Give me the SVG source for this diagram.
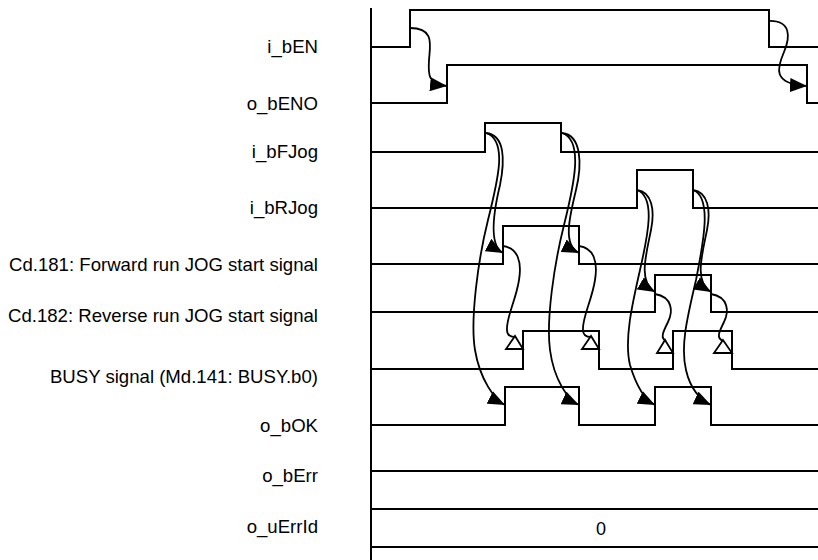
<svg xmlns="http://www.w3.org/2000/svg" width="818" height="560" viewBox="0 0 818 560">
<style>
  .lbl { font-family: "Liberation Sans", Arial, sans-serif; font-size: 18.6px; fill: #000; text-anchor: end; }
  .val { font-family: "Liberation Sans", Arial, sans-serif; font-size: 18px; fill: #000; text-anchor: middle; }
  .wave { fill: none; stroke: #000; stroke-width: 2; }
  .arr { fill: none; stroke: #000; stroke-width: 1.8; marker-end: url(#ah); }
  .arr2 { fill: none; stroke: #000; stroke-width: 1.8; }
  .tri { fill: #fff; stroke: #000; stroke-width: 1.8; }
</style>
<defs>
  <marker id="ah" markerUnits="userSpaceOnUse" markerWidth="18" markerHeight="14" refX="17" refY="7" orient="auto" viewBox="0 0 18 14">
    <path d="M0,0 L17,7 L0,14 z" fill="#000"/>
  </marker>
</defs>
<rect width="818" height="560" fill="#fff"/>

<g id="axis">
  <path class="wave" d="M371,8 V560"/>
</g>

<g id="labels">
  <text class="lbl" x="318" y="53">i_bEN</text>
  <text class="lbl" x="318" y="110">o_bENO</text>
  <text class="lbl" x="318" y="158">i_bFJog</text>
  <text class="lbl" x="318" y="214">i_bRJog</text>
  <text class="lbl" x="318" y="271">Cd.181: Forward run JOG start signal</text>
  <text class="lbl" x="318" y="322">Cd.182: Reverse run JOG start signal</text>
  <text class="lbl" x="318" y="383">BUSY signal (Md.141: BUSY.b0)</text>
  <text class="lbl" x="318" y="432">o_bOK</text>
  <text class="lbl" x="318" y="482">o_bErr</text>
  <text class="lbl" x="318" y="533">o_uErrId</text>
</g>

<g id="i_bEN"><path class="wave" d="M371,47 H410 V10 H769 V47 H818"/></g>
<g id="o_bENO"><path class="wave" d="M371,103 H447 V65 H807 V103 H818"/></g>
<g id="i_bFJog"><path class="wave" d="M371,152 H485 V123 H561 V152 H818"/></g>
<g id="i_bRJog"><path class="wave" d="M371,208 H637 V170 H693 V208 H818"/></g>
<g id="cd181"><path class="wave" d="M371,264 H503 V226 H579 V264 H818"/></g>
<g id="cd182"><path class="wave" d="M371,312 H655 V275 H711 V312 H818"/></g>
<g id="busy"><path class="wave" d="M371,369 H523 V331 H599 V369 H673 V331 H732 V369 H818"/></g>
<g id="o_bOK"><path class="wave" d="M371,425 H505 V387 H579 V425 H655 V387 H711 V425 H818"/></g>
<g id="o_bErr"><path class="wave" d="M371,471 H818"/></g>
<g id="o_uErrId">
  <path class="wave" d="M371,509 H818 M371,547 H818"/>
  <text class="val" x="601" y="535">0</text>
</g>

<g id="connectors">
  <path class="arr" d="M410,28 C435,28 430,45 429,60 C428,75 428,84 447,86"/>
  <path class="arr" d="M768,21 C792,20 790,38 784,52 C777,68 772,84 807,86"/>

  <path class="arr" d="M486,133 C505,135 505,160 500,185 C494,210 488,245 503,253"/>
  <path class="arr" d="M486,133 C508,140 498,180 488,220 C478,260 470,320 475,350 C480,380 495,400 505,405"/>
  <path class="arr" d="M562,133 C582,135 582,165 576,190 C570,215 562,245 579,253"/>
  <path class="arr" d="M562,133 C584,140 574,185 564,225 C554,265 546,320 550,350 C554,380 568,400 579,405"/>

  <path class="arr" d="M637,190 C652,192 655,210 651,230 C646,255 638,282 655,292"/>
  <path class="arr" d="M637,190 C656,197 648,235 640,270 C632,305 624,340 630,365 C636,385 645,400 655,405"/>
  <path class="arr" d="M693,190 C708,192 711,210 707,230 C702,255 694,282 711,292"/>
  <path class="arr" d="M693,190 C712,197 704,240 696,280 C688,315 680,345 686,370 C690,388 700,400 711,405"/>

  <path class="arr2" d="M503,246 C518,248 522,262 519,280 C516,300 506,318 507,330 C507,336 511,337 515,337"/>
  <path class="arr2" d="M579,246 C594,248 598,262 595,280 C592,300 582,318 583,330 C583,336 587,337 591,337"/>
  <path class="arr2" d="M655,294 C673,297 673,312 668,322 C663,332 660,338 666,341"/>
  <path class="arr2" d="M711,294 C729,297 729,312 724,322 C719,332 716,338 723,341"/>

  <polygon class="tri" points="515,336 506,349 523,349"/>
  <polygon class="tri" points="591,336 582,349 599,349"/>
  <polygon class="tri" points="665,340 657,353 673,353"/>
  <polygon class="tri" points="723,340 714,353 732,353"/>
</g>
</svg>
